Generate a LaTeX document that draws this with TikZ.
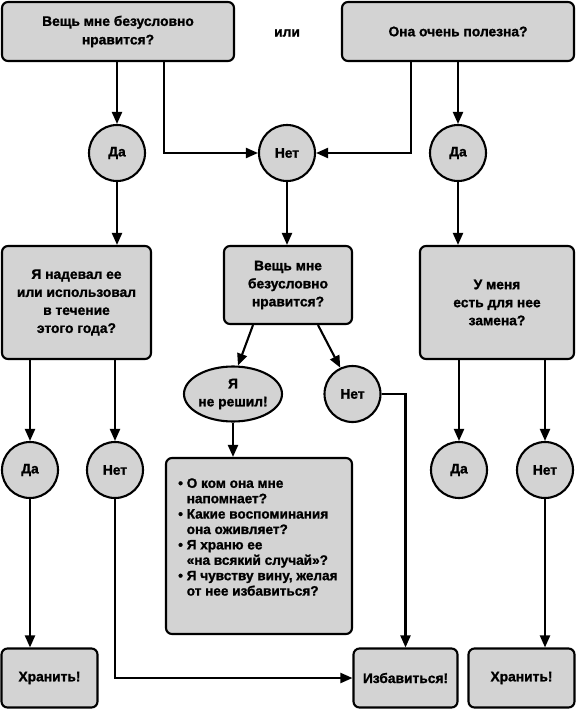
\documentclass[tikz,border=0pt]{standalone}
\usepackage{fontspec}
\setmainfont{Liberation Sans}[BoldFeatures={FakeBold=1.3}]
\usetikzlibrary{arrows.meta,shapes.geometric}
\definecolor{boxgray}{RGB}{211,211,211}
\begin{document}
\begin{tikzpicture}[x=1pt,y=-1pt,
  every node/.style={font=\bfseries\fontsize{13.8}{18.5}\selectfont},
  qbox/.style={draw,line width=2.1pt,fill=boxgray,rounded corners=6pt,align=center,inner sep=0pt},
  ans/.style={circle,draw,line width=2.1pt,fill=boxgray,minimum size=56pt,inner sep=0pt},
  oval/.style={ellipse,draw,line width=2.1pt,fill=boxgray,inner sep=0pt,align=center},
  arr/.style={line width=2.1pt,-{Triangle[length=12pt,width=10pt]}},
  mid/.style={font=\bfseries\fontsize{13.8}{18}\selectfont}]
\useasboundingbox (0,0) rectangle (576,709);

\node[qbox,minimum width=232pt,minimum height=59pt] (q1) at (118,31.5) {Вещь мне безусловно\\нравится?};
\node (or) at (287,33) {или};
\node[qbox,minimum width=232pt,minimum height=59pt] (q2) at (458,31.5) {Она очень полезна?};

\node[ans] (yes1) at (117,153) {Да};
\node[ans] (no1) at (287,153) {Нет};
\node[ans] (yes2) at (458,153) {Да};

\node[qbox,mid,minimum width=149pt,minimum height=113pt] (q3) at (76.5,302.5) {Я надевал ее\\или использовал\\в течение\\этого года?};
\node[qbox,mid,minimum width=128pt,minimum height=78pt] (q4) at (288,285) {Вещь мне\\безусловно\\нравится?};
\node[qbox,mid,minimum width=154pt,minimum height=113pt] (q5) at (497,302.5) {У меня\\есть для нее\\замена?};

\node[oval,mid,minimum width=94pt,minimum height=55pt] (und) at (233,394) {Я\\не решил!};
\node[ans] (no2) at (352.5,394) {Нет};

\node[qbox,minimum width=186pt,minimum height=176pt] (list) at (259,546) {};
\node[align=left,anchor=west,inner sep=0pt,font=\bfseries\fontsize{13.6}{15.4}\selectfont] (listtext) at (178,537) {%
\textbullet\ О ком она мне\\\hphantom{\textbullet\ }напомнает?\\
\textbullet\ Какие воспоминания\\\hphantom{\textbullet\ }она оживляет?\\
\textbullet\ Я храню ее\\\hphantom{\textbullet\ }«на всякий случай»?\\
\textbullet\ Я чувству вину, желая\\\hphantom{\textbullet\ }от нее избавиться?};

\node[ans] (yes3) at (30,470) {Да};
\node[ans] (no3) at (115,470) {Нет};
\node[ans] (yes4) at (459,470) {Да};
\node[ans] (no4) at (545,470) {Нет};

\node[qbox,minimum width=96pt,minimum height=59pt] (keep1) at (49.5,678) {Хранить!};
\node[qbox,minimum width=104pt,minimum height=59pt] (rid) at (405.5,678) {Избавиться!};
\node[qbox,minimum width=106pt,minimum height=59pt] (keep2) at (521.5,678) {Хранить!};

\draw[arr] (q1.south -| yes1) -- (yes1);
\draw[arr] ([xshift=46pt]q1.south) |- (no1);
\draw[arr] ([xshift=-47pt]q2.south) |- (no1);
\draw[arr] (q2.south -| yes2) -- (yes2);

\draw[arr] (yes1) -- (yes1 |- q3.north);
\draw[arr] (no1) -- (no1 |- q4.north);
\draw[arr] (yes2) -- (yes2 |- q5.north);

\draw[arr] ([xshift=-35pt]q4.south) -- (und.80);
\draw[arr] ([xshift=30pt]q4.south) -- (no2.115);
\draw[arr] (und.south) -- (und.south |- list.north);

\draw[arr] (q3.south -| yes3) -- (yes3);
\draw[arr] (q3.south -| no3) -- (no3);
\draw[arr] (q5.south -| yes4) -- (yes4);
\draw[arr] (q5.south -| no4) -- (no4);

\draw[arr] (yes3) -- (yes3 |- keep1.north);
\draw[arr] (no3) |- (rid);
\draw[arr] (no2) -| (rid);
\draw[arr] (no4) -- (no4 |- keep2.north);
\end{tikzpicture}
\end{document}
